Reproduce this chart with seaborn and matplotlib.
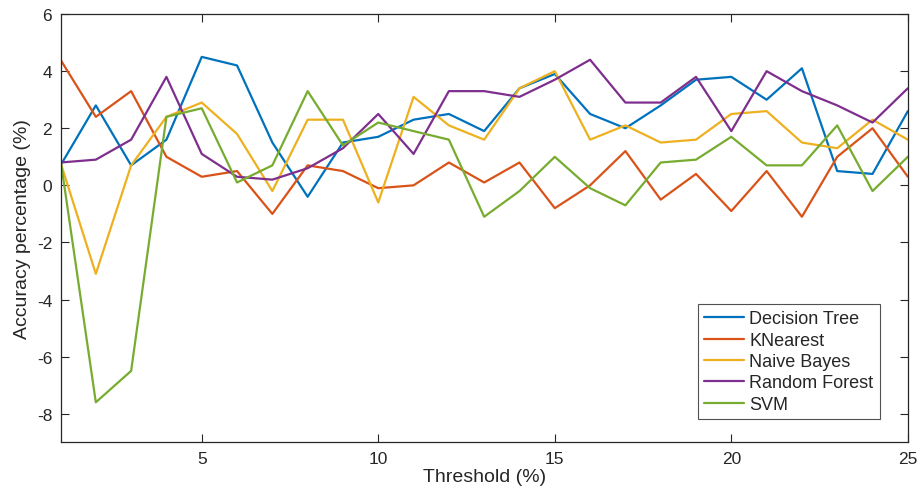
import numpy as np
import pandas as pd
import matplotlib
matplotlib.use("Agg")
import matplotlib.pyplot as plt
import seaborn as sns

thresholds = list(range(1, 26))

decision_tree = [0.7, 2.8, 0.7, 1.6, 4.5, 4.2, 1.5, -0.4, 1.5, 1.7, 2.3, 2.5, 1.9,
                 3.4, 3.9, 2.5, 2.0, 2.8, 3.7, 3.8, 3.0, 4.1, 0.5, 0.4, 2.6]
knearest = [4.4, 2.4, 3.3, 1.0, 0.3, 0.5, -1.0, 0.7, 0.5, -0.1, 0.0, 0.8, 0.1,
            0.8, -0.8, 0.0, 1.2, -0.5, 0.4, -0.9, 0.5, -1.1, 1.0, 2.0, 0.3]
naive_bayes = [0.8, -3.1, 0.7, 2.4, 2.9, 1.8, -0.2, 2.3, 2.3, -0.6, 3.1, 2.1, 1.6,
               3.4, 4.0, 1.6, 2.1, 1.5, 1.6, 2.5, 2.6, 1.5, 1.3, 2.3, 1.6]
random_forest = [0.8, 0.9, 1.6, 3.8, 1.1, 0.3, 0.2, 0.6, 1.3, 2.5, 1.1, 3.3, 3.3,
                 3.1, 3.7, 4.4, 2.9, 2.9, 3.8, 1.9, 4.0, 3.3, 2.8, 2.2, 3.4]
svm = [0.9, -7.6, -6.5, 2.4, 2.7, 0.1, 0.7, 3.3, 1.4, 2.2, 1.9, 1.6, -1.1,
       -0.2, 1.0, -0.1, -0.7, 0.8, 0.9, 1.7, 0.7, 0.7, 2.1, -0.2, 1.0]

models = ["Decision Tree", "KNearest", "Naive Bayes", "Random Forest", "SVM"]
series = [decision_tree, knearest, naive_bayes, random_forest, svm]
colors = ["#0072BD", "#D95319", "#EDB120", "#7E2F8E", "#77AC30"]

rows = []
for name, vals in zip(models, series):
    for t, v in zip(thresholds, vals):
        rows.append({"Threshold": t, "Accuracy": v, "Model": name})
df = pd.DataFrame(rows)

sns.set_style("white")
plt.rcParams['font.family'] = ['Liberation Sans', 'DejaVu Sans']
plt.rcParams['axes.unicode_minus'] = False
txt = "#262626"

fig = plt.figure(figsize=(9.17, 5.02), dpi=100)
ax = fig.add_axes([0.066, 0.117, 0.924, 0.853])

sns.lineplot(data=df, x="Threshold", y="Accuracy", hue="Model", hue_order=models,
             palette=colors, linewidth=1.6, ax=ax)

ax.set_xlim(1, 25)
ax.set_ylim(-9, 6)
ax.set_xticks([5, 10, 15, 20, 25])
ax.set_yticks([-8, -6, -4, -2, 0, 2, 4, 6])
ax.tick_params(direction="in", length=6, width=0.8, colors=txt, labelsize=12.5,
               top=True, right=True, bottom=True, left=True, pad=6)
for s in ax.spines.values():
    s.set_color(txt)
    s.set_linewidth(0.9)

ax.set_xlabel("Threshold (%)", fontsize=14, color=txt, labelpad=2)
ax.set_ylabel("Accuracy percentage (%)", fontsize=14, color=txt, labelpad=4)

leg = ax.legend(loc="lower right", bbox_to_anchor=(0.967, 0.054), fontsize=13,
                frameon=True, fancybox=False, handlelength=2.2, handletextpad=0.3,
                borderpad=0.35, labelspacing=0.24, borderaxespad=0)
leg.get_frame().set_edgecolor(txt)
leg.get_frame().set_linewidth(0.8)
for t in leg.get_texts():
    t.set_color(txt)
for line in leg.get_lines():
    line.set_linewidth(1.6)

fig.savefig("out.png", dpi=100)
